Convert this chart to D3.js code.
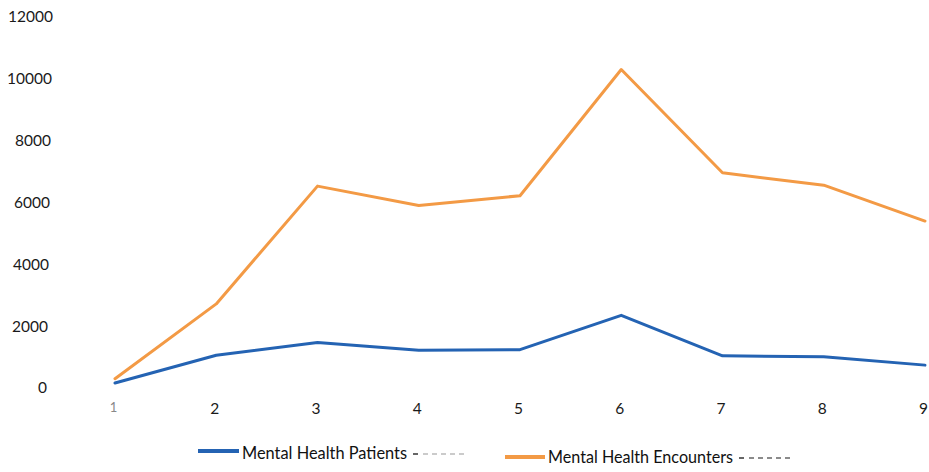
<!DOCTYPE html>
<html>
<head>
<meta charset="utf-8">
<script src="https://cdn.jsdelivr.net/npm/d3@7"></script>
<style>
  html, body { margin: 0; padding: 0; background: #fff; }
  svg { display: block; }
  text { font-family: Lato, "Open Sans", sans-serif; }
</style>
</head>
<body>
<svg id="chart" width="929" height="472"></svg>
<script>
// Monthly counts, periods 1–9
const periods = [1, 2, 3, 4, 5, 6, 7, 8, 9];
const patients = [160, 1060, 1470, 1220, 1240, 2350, 1040, 1010, 740];
const encounters = [300, 2720, 6530, 5900, 6220, 10300, 6960, 6560, 5400];
const yTicks = [0, 2000, 4000, 6000, 8000, 10000, 12000];
const seriesNames = ["Mental Health Patients", "Mental Health Encounters"];
const seriesColors = ["#2463b3", "#f39a45"];

const svg = d3.select("#chart");

const x = d3.scaleLinear().domain([1, 9]).range([115, 925]);
const y = d3.scaleLinear().domain([0, 12000]).range([388, 17]);

// Value axis labels (no axis line or gridlines)
const yAxis = d3.axisLeft(y).tickValues(yTicks).tickFormat(d3.format("d")).tickSize(0).tickPadding(0);
const gy = svg.append("g").attr("transform", "translate(51,0)").call(yAxis);
gy.select(".domain").remove();
gy.selectAll("text")
  .attr("fill", "#1a1a1a")
  .style("font-size", "15.5px")
  .style("font-family", "Lato, 'Open Sans', sans-serif")
  .attr("dx", d => -4 + (d / 12000) * 6);

// Category axis labels
const xAxis = d3.axisBottom(x).tickValues(periods).tickFormat(d3.format("d")).tickSize(0).tickPadding(0);
const gx = svg.append("g").attr("transform", "translate(-2,403)").call(xAxis);
gx.select(".domain").remove();
gx.selectAll("text")
  .attr("fill", d => d === 1 ? "#888" : "#1a1a1a")
  .style("font-size", d => d === 1 ? "13px" : "15.5px")
  .style("font-family", "Lato, 'Open Sans', sans-serif");

const line = d3.line().x((d, i) => x(periods[i])).y(d => y(d));

[encounters, patients].forEach((vals, k) => {
  const color = k === 0 ? seriesColors[1] : seriesColors[0];
  svg.append("path")
    .datum(vals)
    .attr("d", line)
    .attr("fill", "none")
    .attr("stroke", color)
    .attr("stroke-width", 3)
    .attr("stroke-linejoin", "round")
    .attr("stroke-linecap", "round");
});

// Legend: swatch line, label, then a trailing dashed leader
const legend = [
  { name: seriesNames[0], color: seriesColors[0], x0: 198, y0: 451, tx: 242, ty: 459, tw: 165, dashEnd: 468 },
  { name: seriesNames[1], color: seriesColors[1], x0: 505, y0: 457, tx: 548, ty: 463, tw: 185, dashEnd: 793 }
];
legend.forEach(l => {
  svg.append("line")
    .attr("x1", l.x0).attr("x2", l.tx - 3)
    .attr("y1", l.y0).attr("y2", l.y0)
    .attr("stroke", l.color).attr("stroke-width", 4);
  svg.append("text")
    .attr("x", l.tx).attr("y", l.ty)
    .attr("fill", "#111")
    .style("font-size", "17.5px")
    .attr("textLength", l.tw)
    .attr("lengthAdjust", "spacingAndGlyphs")
    .text(l.name);
  svg.append("line")
    .attr("x1", l.tx + l.tw + 6).attr("x2", l.tx + l.tw + 11)
    .attr("y1", l.ty - 5).attr("y2", l.ty - 5)
    .attr("stroke", "#333").attr("stroke-width", 1.5);
  svg.append("line")
    .attr("x1", l.tx + l.tw + 16).attr("x2", l.dashEnd)
    .attr("y1", l.ty - 5).attr("y2", l.ty - 5)
    .attr("stroke", l === legend[0] ? "#bbb" : "#666").attr("stroke-width", 1.5)
    .attr("stroke-dasharray", "5,4");
});
</script>
</body>
</html>
